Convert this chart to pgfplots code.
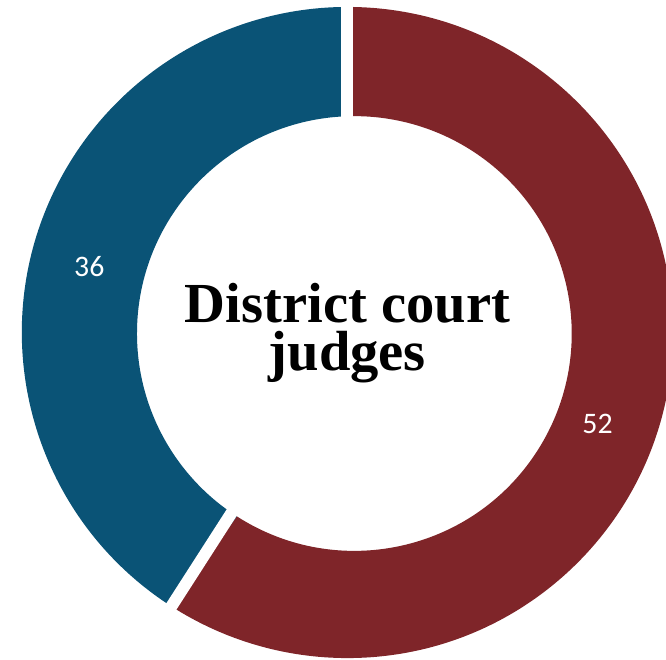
\documentclass[border=0pt]{standalone}
\usepackage{pgfplots}
\usepackage{pgfplotstable}
\pgfplotsset{compat=1.18}
\usetikzlibrary{calc}
\usepackage{fontspec}
\setmainfont{Liberation Serif}
\newfontfamily\calib{Carlito}

\definecolor{repred}{HTML}{7F2529}
\definecolor{demblue}{HTML}{0A5376}

% donut values, clockwise from 12 o'clock
\pgfplotstableread{
seg value
red 52
blue 36
}\judges

\begin{document}
\pgfplotstablegetelem{0}{value}\of\judges \let\vr\pgfplotsretval
\pgfplotstablegetelem{1}{value}\of\judges \let\vb\pgfplotsretval
\pgfmathsetmacro\aR{90-360*(\vr/(\vr+\vb))}
\pgfmathsetmacro\aT{90+asin(7/219)}
\begin{tikzpicture}
\begin{axis}[
  width=666pt, height=664pt, scale only axis,
  xmin=0, xmax=666, ymin=0, ymax=664,
  hide axis,
]
% red segment
\fill[repred] (axis cs:345,329) ++(90:328pt)
  arc[start angle=90, end angle=\aR, radius=328pt]
  -- ($(axis cs:352,328)+(\aR:219pt)$)
  arc[start angle=\aR, end angle=\aT, radius=219pt] -- cycle;
% blue segment
\fill[demblue] (axis cs:345,329) ++(\aR:328pt)
  arc[start angle=\aR, end angle=-270, radius=328pt]
  -- ($(axis cs:352,328)+(\aT:219pt)$)
  arc[start angle=\aT, end angle=\aR+360, radius=219pt] -- cycle;
% white separators
\draw[white, line width=12pt] ($(axis cs:345,329)+(90:190pt)$) -- ($(axis cs:345,329)+(90:345pt)$);
\draw[white, line width=12pt] ($(axis cs:345,329)+(\aR:190pt)$) -- ($(axis cs:345,329)+(\aR:345pt)$);
% values
\node[white, inner sep=0pt, font=\calib\fontsize{30}{30}\selectfont] at (axis cs:85,395) {\vb};
\node[white, inner sep=0pt, font=\calib\fontsize{30}{30}\selectfont] at (axis cs:597,237) {\vr};
% centre title (base anchor = last line)
\node[anchor=base, inner sep=0pt, align=center,
  font=\bfseries\fontsize{57}{48}\selectfont] at (axis cs:345,291) {District court\\judges};
\end{axis}
\pgfresetboundingbox
\path[use as bounding box] (current axis.south west) rectangle (current axis.north east);
\end{tikzpicture}
\end{document}
